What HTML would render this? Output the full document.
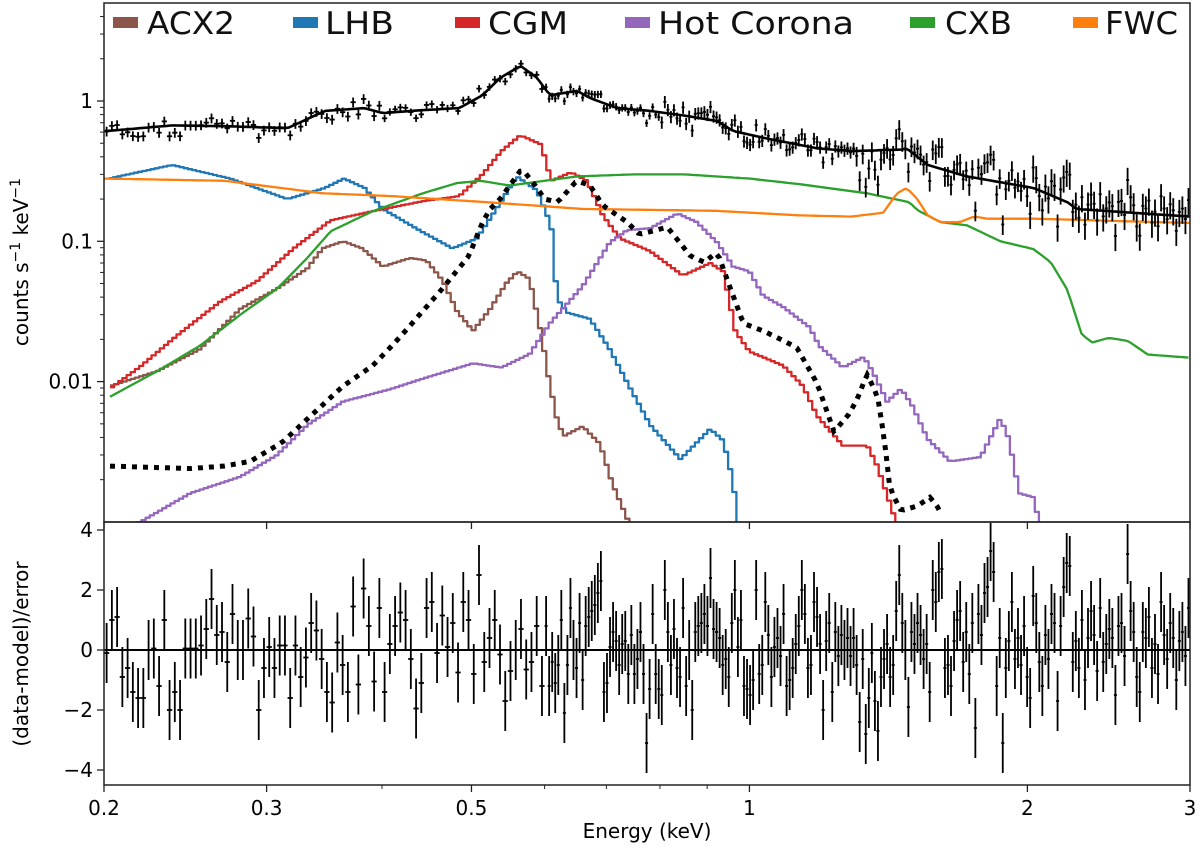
<!DOCTYPE html>
<html><head><meta charset="utf-8"><title>X-ray spectrum fit</title>
<style>
html,body{margin:0;padding:0;background:#fff;}
svg{display:block;font-family:"DejaVu Sans","Liberation Sans",sans-serif;}
.tick{font-size:20px;fill:#000;}
.leg{font-size:31px;fill:#111;font-family:"DejaVu Sans","Liberation Sans",sans-serif;font-weight:normal;}
</style></head>
<body>
<svg id="chart" width="1200" height="851" viewBox="0 0 1200 851" xmlns="http://www.w3.org/2000/svg">
<defs>
<clipPath id="clipMain"><rect x="104" y="3" width="1086" height="519"/></clipPath>
<clipPath id="clipRes"><rect x="104" y="523" width="1086" height="262"/></clipPath>
</defs>
<g id="main"></g>
<g id="res"></g>
<g id="axes"></g>
<g id="legend"></g>
<text class="tick" x="0" y="0" transform="translate(28,262) rotate(-90)" text-anchor="middle">counts s<tspan dy="-8" font-size="14">−1</tspan><tspan dy="8"> keV</tspan><tspan dy="-8" font-size="14">−1</tspan></text>
<text class="tick" x="0" y="0" transform="translate(28,654) rotate(-90)" text-anchor="middle">(data-model)/error</text>
<text class="tick" x="647" y="838" text-anchor="middle">Energy (keV)</text>
</svg>
<script>
// ---- data ----
const acxE=[0.203,0.228,0.254,0.281,0.308,0.332,0.345,0.363,0.381,0.401,0.429,0.447,0.466,0.482,0.502,0.524,0.545,0.561,0.578,0.596,0.606,0.62,0.63,0.66,0.689,0.71,0.74,0.76];
const acxV=[0.0093,0.0118,0.017,0.033,0.046,0.064,0.089,0.10,0.089,0.066,0.076,0.073,0.052,0.032,0.023,0.033,0.05,0.061,0.054,0.0208,0.0107,0.0051,0.0041,0.0048,0.0036,0.0019,0.001,0.0006];
const lhbE=[0.2025,0.237,0.274,0.316,0.347,0.364,0.383,0.401,0.441,0.477,0.507,0.535,0.56,0.589,0.61,0.619,0.635,0.672,0.706,0.737,0.781,0.842,0.907,0.937,0.961,0.97,0.98];
const lhbV=[0.28,0.35,0.28,0.20,0.24,0.28,0.24,0.17,0.118,0.089,0.105,0.18,0.29,0.23,0.13,0.039,0.031,0.028,0.017,0.0099,0.0049,0.0028,0.0046,0.0038,0.0019,0.001,0.0005];
const cgmE=[0.203,0.219,0.240,0.267,0.293,0.321,0.352,0.391,0.443,0.485,0.514,0.539,0.565,0.595,0.61,0.641,0.667,0.694,0.724,0.781,0.847,0.907,0.937,0.966,1.0,1.088,1.143,1.184,1.263,1.342,1.376,1.43,1.46];
const cgmV=[0.0089,0.0128,0.0213,0.037,0.052,0.089,0.141,0.164,0.193,0.21,0.30,0.44,0.57,0.49,0.27,0.31,0.27,0.153,0.105,0.085,0.057,0.070,0.061,0.0228,0.0164,0.013,0.0093,0.0057,0.0035,0.0035,0.0025,0.00118,0.0007];
const hotE=[0.2,0.219,0.248,0.281,0.308,0.332,0.363,0.41,0.443,0.502,0.539,0.578,0.608,0.66,0.706,0.737,0.781,0.836,0.877,0.923,0.961,1.0,1.035,1.088,1.162,1.19,1.263,1.33,1.36,1.41,1.46,1.5,1.56,1.65,1.78,1.87,1.91,1.96,2.03,2.06,2.1];
const hotV=[0.0009,0.001,0.0016,0.0021,0.003,0.0049,0.0072,0.0089,0.0105,0.0135,0.0126,0.0157,0.026,0.048,0.098,0.12,0.124,0.158,0.137,0.098,0.066,0.061,0.041,0.034,0.0244,0.018,0.0126,0.015,0.0118,0.0072,0.0089,0.0068,0.0039,0.0027,0.0029,0.0055,0.0039,0.0016,0.0015,0.001,0.0006];
const cxbE=[0.203,0.228,0.254,0.281,0.308,0.332,0.352,0.391,0.443,0.482,0.511,0.55,0.6,0.65,0.75,0.85,1.0,1.135,1.34,1.49,1.52,1.61,1.72,1.87,2.03,2.12,2.21,2.29,2.35,2.45,2.57,2.7,3.0];
const cxbV=[0.0078,0.0118,0.018,0.030,0.046,0.076,0.118,0.164,0.22,0.26,0.27,0.25,0.27,0.29,0.30,0.30,0.28,0.255,0.22,0.19,0.167,0.137,0.13,0.10,0.088,0.071,0.045,0.0217,0.019,0.0205,0.0195,0.0156,0.0148];
const fwcE=[0.2,0.27,0.345,0.41,0.52,0.66,0.92,1.135,1.29,1.396,1.445,1.48,1.52,1.56,1.61,1.69,1.75,1.81,2.03,3.0];
const fwcV=[0.28,0.27,0.22,0.21,0.19,0.17,0.165,0.153,0.15,0.16,0.22,0.24,0.2,0.153,0.137,0.137,0.15,0.145,0.145,0.135];
const srcE=[0.203,0.248,0.27,0.288,0.312,0.332,0.363,0.391,0.41,0.429,0.465,0.497,0.514,0.524,0.537,0.567,0.589,0.6,0.62,0.65,0.672,0.694,0.737,0.76,0.815,0.864,0.894,0.923,0.955,0.985,1.035,1.088,1.125,1.184,1.235,1.28,1.31,1.34,1.376,1.4,1.42,1.46,1.52,1.57,1.61,1.62];
const srcV=[0.0025,0.0024,0.0025,0.0027,0.0037,0.0054,0.0093,0.013,0.018,0.025,0.046,0.079,0.137,0.17,0.2,0.33,0.24,0.2,0.19,0.27,0.25,0.18,0.137,0.112,0.126,0.078,0.071,0.084,0.045,0.026,0.023,0.0196,0.0175,0.0097,0.0044,0.0058,0.0076,0.0113,0.008,0.0039,0.0017,0.0012,0.0013,0.0015,0.0012,0.001];
const totE=[0.2,0.207,0.237,0.274,0.316,0.347,0.383,0.401,0.441,0.485,0.514,0.537,0.565,0.589,0.608,0.651,0.672,0.719,0.781,0.847,0.923,0.961,1.045,1.184,1.29,1.46,1.48,1.56,1.72,2.03,2.21,2.26,3.0];
const totV=[0.61,0.62,0.67,0.66,0.64,0.85,0.89,0.82,0.86,0.89,1.10,1.46,1.78,1.46,1.10,1.18,1.05,0.89,0.85,0.79,0.72,0.61,0.54,0.46,0.44,0.45,0.46,0.35,0.29,0.24,0.19,0.17,0.15];
const resLow=[-0.1,1.0,1.1,-0.9,-0.6,-1.4,-1.6,-1.6,0.0,0.05,-1.2,1.0,-2.0,-1.4,-2.0,0.05,0.05,0.05,0.15,0.7,1.7,0.5,0.6,-0.4,1.2,0.0,0.0,1.05,0.45,-2.0,-0.6,0.1,-0.6,0.15,0.15,-1.6,0.15,-0.9,-0.25,0.9,0.65,-0.3,-1.4,-1.75,0.25,-0.5,-1.4,1.45,-1.15,2.05,0.8,-1.05,1.4,-1.4,0.2,0.8,1.25,1.0,-0.3,-1.95,-1.1,1.4,1.6,-0.1,1.15,0.1,0.9,-0.75,1.6,1.0,-0.8,2.5,-0.4,0.4,1.0,-0.15,-1.7,-0.7,0.0,0.7,-0.65,-0.4,0.8,-1.2];
const resHigh=[0.8,-1.2,-0.4,-1.1,-0.5,1.0,-2.1,-0.5,1.4,0.0,-0.6,0.9,-1.0,0.8,1.1,1.3,1.5,1.9,2.3,
-1.4,-1.1,0.1,0.6,0.3,-0.5,0.2,0.3,-0.8,0.5,-0.8,-0.3,0.6,-0.8,-3.1,-1.3,1.2,-0.8,-1.3,-1.5,
2.0,0.6,-0.5,0.7,-0.6,-0.9,1.4,-1.2,0.0,-2.0,0.6,0.8,0.9,1.2,0.8,2.4,0.7,0.6,0.4,-0.5,-0.3,
-0.9,0.9,2.0,0.1,1.0,-1.2,-1.3,-1.5,-1.0,2.0,-0.8,-0.5,1.6,0.5,-0.9,0.1,0.4,-0.2,1.2,-1.2,-1.0,
-0.6,0.2,0.8,2.0,1.2,-0.6,-0.5,1.6,1.1,0.2,-2.0,0.3,0.9,-1.4,0.6,-0.2,0.5,0.0,0.4,-0.2,0.4,
-0.5,-2.4,-0.3,-2.8,-1.6,-0.1,-1.7,-2.7,-0.9,-0.3,0.2,-0.9,-0.5,1.3,2.5,0.9,0.0,-1.9,0.6,0.2,0.9,
0.5,-0.3,0.2,-1.4,2.0,1.6,2.6,2.7,-0.6,-0.5,-1.2,0.3,1.0,1.3,-0.4,0.6,-0.8,0.9,-2.6,1.2,0.5,
1.9,2.1,3.3,2.6,-1.2,0.4,-3.1,-0.6,0.3,1.6,-0.3,0.4,-0.5,0.8,-0.9,-1.6,1.8,0.9,-0.4,-1.2,0.5,
-0.3,1.2,0.9,-1.7,0.8,2.1,2.9,2.8,-0.4,0.3,-0.6,1.0,-1.0,0.4,1.3,0.5,-0.7,1.4,-0.4,0.2,0.7,
0.4,-1.5,0.8,0.9,-0.2,3.2,1.3,0.6,-0.9,-1.4,0.6,0.4,1.1,-0.6,0.2,-0.8,1.6,0.5,-0.3,0.9,0.4,-1.0,0.3,0.6,-0.2,1.4];
const xTickVals=[0.2,0.3,0.5,1,2,3];
const xTickLabels=["0.2","0.3","0.5","1","2","3"];
const xMinorVals=[0.4,0.6,0.7,0.8,0.9];
const yTickVals=[1,0.1,0.01];
const yTickLabels=["1","0.1","0.01"];
const rTickVals=[4,2,0,-2,-4];
const rTickLabels=["4","2","0","−2","−4"];
const legendNames=["ACX2","LHB","CGM","Hot Corona","CXB","FWC"];

const X0=104,X1=1190,E0=0.2,E1=3;
function xs(e){return X0+(Math.log10(e/E0)/Math.log10(E1/E0))*(X1-X0);}
function ys(v){return 101-Math.log10(v)*140.3;}
function rs(r){return 650-r*30;}
const NS="http://www.w3.org/2000/svg";
function mk(tag,attrs,parent){const el=document.createElementNS(NS,tag);for(const k in attrs)el.setAttribute(k,attrs[k]);parent.appendChild(el);return el;}
function interp(E,V,e){
  if(e<=E[0])return V[0]; if(e>=E[E.length-1])return V[V.length-1];
  for(let i=1;i<E.length;i++){if(e<=E[i]){const t=(Math.log10(e)-Math.log10(E[i-1]))/(Math.log10(E[i])-Math.log10(E[i-1]));return Math.pow(10,Math.log10(V[i-1])+t*(Math.log10(V[i])-Math.log10(V[i-1])));}}
}
const main=document.getElementById('main');
const res=document.getElementById('res');
const axes=document.getElementById('axes');
const legend=document.getElementById('legend');
const gMain=mk('g',{'clip-path':'url(#clipMain)'},main);
const gRes=mk('g',{'clip-path':'url(#clipRes)'},res);

function stepPath(E,V){
  const a=Math.log10(E[0]),b=Math.log10(E[E.length-1]),st=0.0045;
  let d='',prevY=null;
  for(let l=a;l<=b+1e-9;l+=st){
    const e=Math.pow(10,l),e2=Math.pow(10,Math.min(l+st,b));
    const y=ys(interp(E,V,Math.pow(10,l+st/2)));
    const x1=xs(e),x2=xs(e2);
    if(prevY===null)d+='M'+x1.toFixed(1)+','+y.toFixed(1);else d+='L'+x1.toFixed(1)+','+y.toFixed(1);
    d+='L'+x2.toFixed(1)+','+y.toFixed(1);prevY=y;
  }
  return d;
}
function smoothPath(E,V){
  const a=Math.log10(E[0]),b=Math.log10(E[E.length-1]);let d='';
  for(let l=a;l<=b+1e-9;l+=0.004){const e=Math.pow(10,l);d+=(d?'L':'M')+xs(e).toFixed(1)+','+ys(interp(E,V,e)).toFixed(1);}
  return d;
}
const comps=[[acxE,acxV,'#8c564b','acx2-curve'],[lhbE,lhbV,'#1f77b4','lhb-curve'],[cgmE,cgmV,'#d62728','cgm-curve'],[hotE,hotV,'#9467bd','hot-corona-curve'],[cxbE,cxbV,'#2ca02c','cxb-curve'],[fwcE,fwcV,'#ff7f0e','fwc-curve']];
comps.forEach(c=>{
  const p=mk('path',{d:(c[3]==='fwc-curve'||c[3]==='cxb-curve')?smoothPath(c[0],c[1]):stepPath(c[0],c[1]),fill:'none',stroke:c[2],'stroke-width':2.3,'stroke-linejoin':'round'},gMain);
  
  
});
const src=mk('path',{d:smoothPath(srcE,srcV),fill:'none',stroke:'#000','stroke-width':5,'stroke-dasharray':'5 6'},gMain);



const bins=[];
(function(){
  const la=Math.log10(0.2),lb=Math.log10(0.6),lc=Math.log10(3);
  const sa=(lb-la)/resLow.length,sb=(lc-lb)/resHigh.length;
  resLow.forEach((r,i)=>bins.push({lo:la+i*sa,hi:la+(i+1)*sa,r:r}));
  resHigh.forEach((r,i)=>bins.push({lo:lb+i*sb,hi:lb+(i+1)*sb,r:r}));
})();
function relErr(e){return e<0.4?0.08:e<0.8?0.06:e<1.3?0.1:e<2?0.16:0.22;}
bins.forEach(b=>{
  const ec=Math.pow(10,(b.lo+b.hi)/2),xa=xs(Math.pow(10,b.lo)),xb=xs(Math.pow(10,b.hi)),xc=(xa+xb)/2;
  const m=interp(totE,totV,ec),re=relErr(ec),dv=m*(1+b.r*re);
  const g=mk('g',{stroke:'#000','stroke-width':1.8},gMain);
  
  
  mk('line',{x1:xa,x2:xb,y1:ys(dv),y2:ys(dv)},g);
  mk('line',{x1:xc,x2:xc,y1:ys(dv*(1+re)),y2:ys(Math.max(dv*(1-re),1e-4))},g);
  const gr=mk('g',{stroke:'#000','stroke-width':1.8},gRes);
  
  
  mk('line',{x1:xa,x2:xb,y1:rs(b.r),y2:rs(b.r)},gr);
  mk('line',{x1:xc,x2:xc,y1:rs(b.r+1),y2:rs(b.r-1)},gr);
});
const tot=mk('path',{d:smoothPath(totE,totV),fill:'none',stroke:'#000','stroke-width':2.6,'stroke-linejoin':'round'},gMain);


const zl=mk('line',{x1:X0,x2:X1,y1:rs(0),y2:rs(0),stroke:'#000','stroke-width':2},gRes);



const f1=mk('rect',{x:X0,y:3,width:X1-X0,height:519,fill:'none',stroke:'#222','stroke-width':1.5},axes);


const f2=mk('rect',{x:X0,y:522,width:X1-X0,height:263,fill:'none',stroke:'#222','stroke-width':1.5},axes);


xTickVals.forEach((v,i)=>{
  const x=xs(v);
  mk('line',{x1:x,x2:x,y1:785,y2:792,stroke:'#222','stroke-width':1.3},axes);
  mk('line',{x1:x,x2:x,y1:522,y2:529,stroke:'#222','stroke-width':1.3},axes);
  const t=mk('text',{x:x,y:815,'text-anchor':'middle',class:'tick'},axes);t.textContent=xTickLabels[i];
  
  
});
xMinorVals.forEach(v=>{const x=xs(v);mk('line',{x1:x,x2:x,y1:785,y2:789,stroke:'#222','stroke-width':1},axes);});
yTickVals.forEach((v,i)=>{
  const y=ys(v);
  mk('line',{x1:97,x2:X0,y1:y,y2:y,stroke:'#222','stroke-width':1.3},axes);
  const t=mk('text',{x:93,y:y+7,'text-anchor':'end',class:'tick'},axes);t.textContent=yTickLabels[i];
  
  
});
for(let d=-3;d<=0;d++){for(let k=2;k<=9;k++){const v=k*Math.pow(10,d);const y=ys(v);if(y<3||y>522)continue;mk('line',{x1:100,x2:X0,y1:y,y2:y,stroke:'#222','stroke-width':1},axes);}}
rTickVals.forEach((v,i)=>{
  const y=rs(v);
  mk('line',{x1:97,x2:X0,y1:y,y2:y,stroke:'#222','stroke-width':1.3},axes);
  const t=mk('text',{x:93,y:y+7,'text-anchor':'end',class:'tick'},axes);t.textContent=rTickLabels[i];
  
  
});
const legPatch=[113,293,455,625,910,1073];
const legText=[147,325,488,658,945,1105];
const legW=[88,69,80,196,67,73];
const legColors=['#8c564b','#1f77b4','#d62728','#9467bd','#2ca02c','#ff7f0e'];
legendNames.forEach((n,i)=>{
  const g=mk('g',{},legend);
  
  
  mk('rect',{x:legPatch[i],y:17,width:25,height:11,fill:legColors[i]},g);
  const t=mk('text',{x:legText[i],y:34,class:'leg',textLength:legW[i],lengthAdjust:'spacingAndGlyphs'},g);
  t.textContent=n;
});
</script>
</body></html>
